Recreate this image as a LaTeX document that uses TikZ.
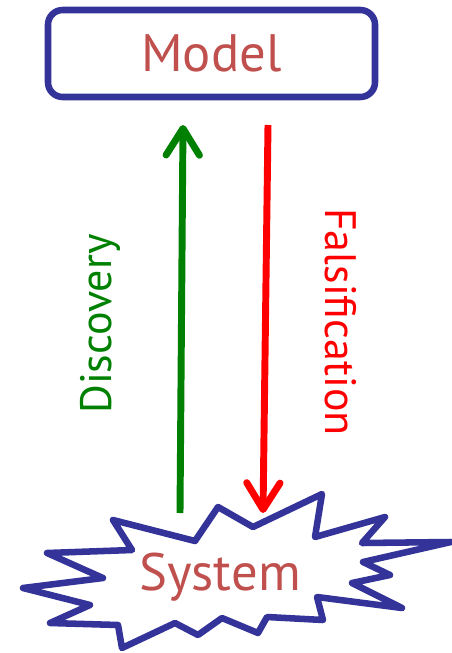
\documentclass[tikz,border=0pt]{standalone}
\usepackage{fontspec}
\setmainfont{PT Sans}
\usetikzlibrary{arrows.meta}
\definecolor{boxblue}{HTML}{333399}
\definecolor{txtred}{HTML}{C0504D}
\definecolor{dgreen}{HTML}{008000}
\definecolor{bred}{HTML}{FF0000}
\tikzset{
  outline/.style={draw=boxblue, line width=4.9pt, line join=round},
  bigtext/.style={text=txtred, font=\fontsize{39.5}{41}\selectfont},
  flow/.style={line width=5.2pt, -{Straight Barb[length=20pt,width=25pt,line cap=round,line join=round]}},
  sidelabel/.style={font=\fontsize{33}{35}\selectfont}
}
\begin{document}
\begin{tikzpicture}[x=0.75pt,y=-0.75pt]
\useasboundingbox (0,0) rectangle (452,653);
% Model box
\node[outline, rounded corners=11pt, minimum width=327*0.75pt, minimum height=87*0.75pt, bigtext, inner sep=0pt] (model) at (211.5,53.5) {Model};
% Starburst
\draw[outline, fill=white] (113,520) -- (195,541) -- (218,507) -- (253,527) -- (322,494) -- (315,537) -- (385,517) -- (362,543) -- (451,542) -- (363,562) -- (390,575) -- (352,583) -- (402,608) -- (317,597) -- (323,620) -- (267,617) -- (258,633) -- (222,618) -- (198,635) -- (175,623) -- (122,648) -- (118,625) -- (50,623) -- (90,605) -- (23,588) -- (103,578) -- (47,553) -- (132,550) -- cycle;
\node[bigtext] (system) at (220,577) {System};
% arrows
\coordinate (gs) at (180,513);
\coordinate (ge) at (183,125);
\coordinate (rs) at (268,125);
\coordinate (re) at (263,513);
\draw[flow, draw=dgreen] (gs) -- (ge);
\draw[flow, draw=bred] (rs) -- (re);
\node[sidelabel, text=dgreen, rotate=90] (disc) at (100,324) {Discovery};
\node[sidelabel, text=bred, rotate=-90] (fals) at (341,322) {Falsification};
\end{tikzpicture}
\end{document}
